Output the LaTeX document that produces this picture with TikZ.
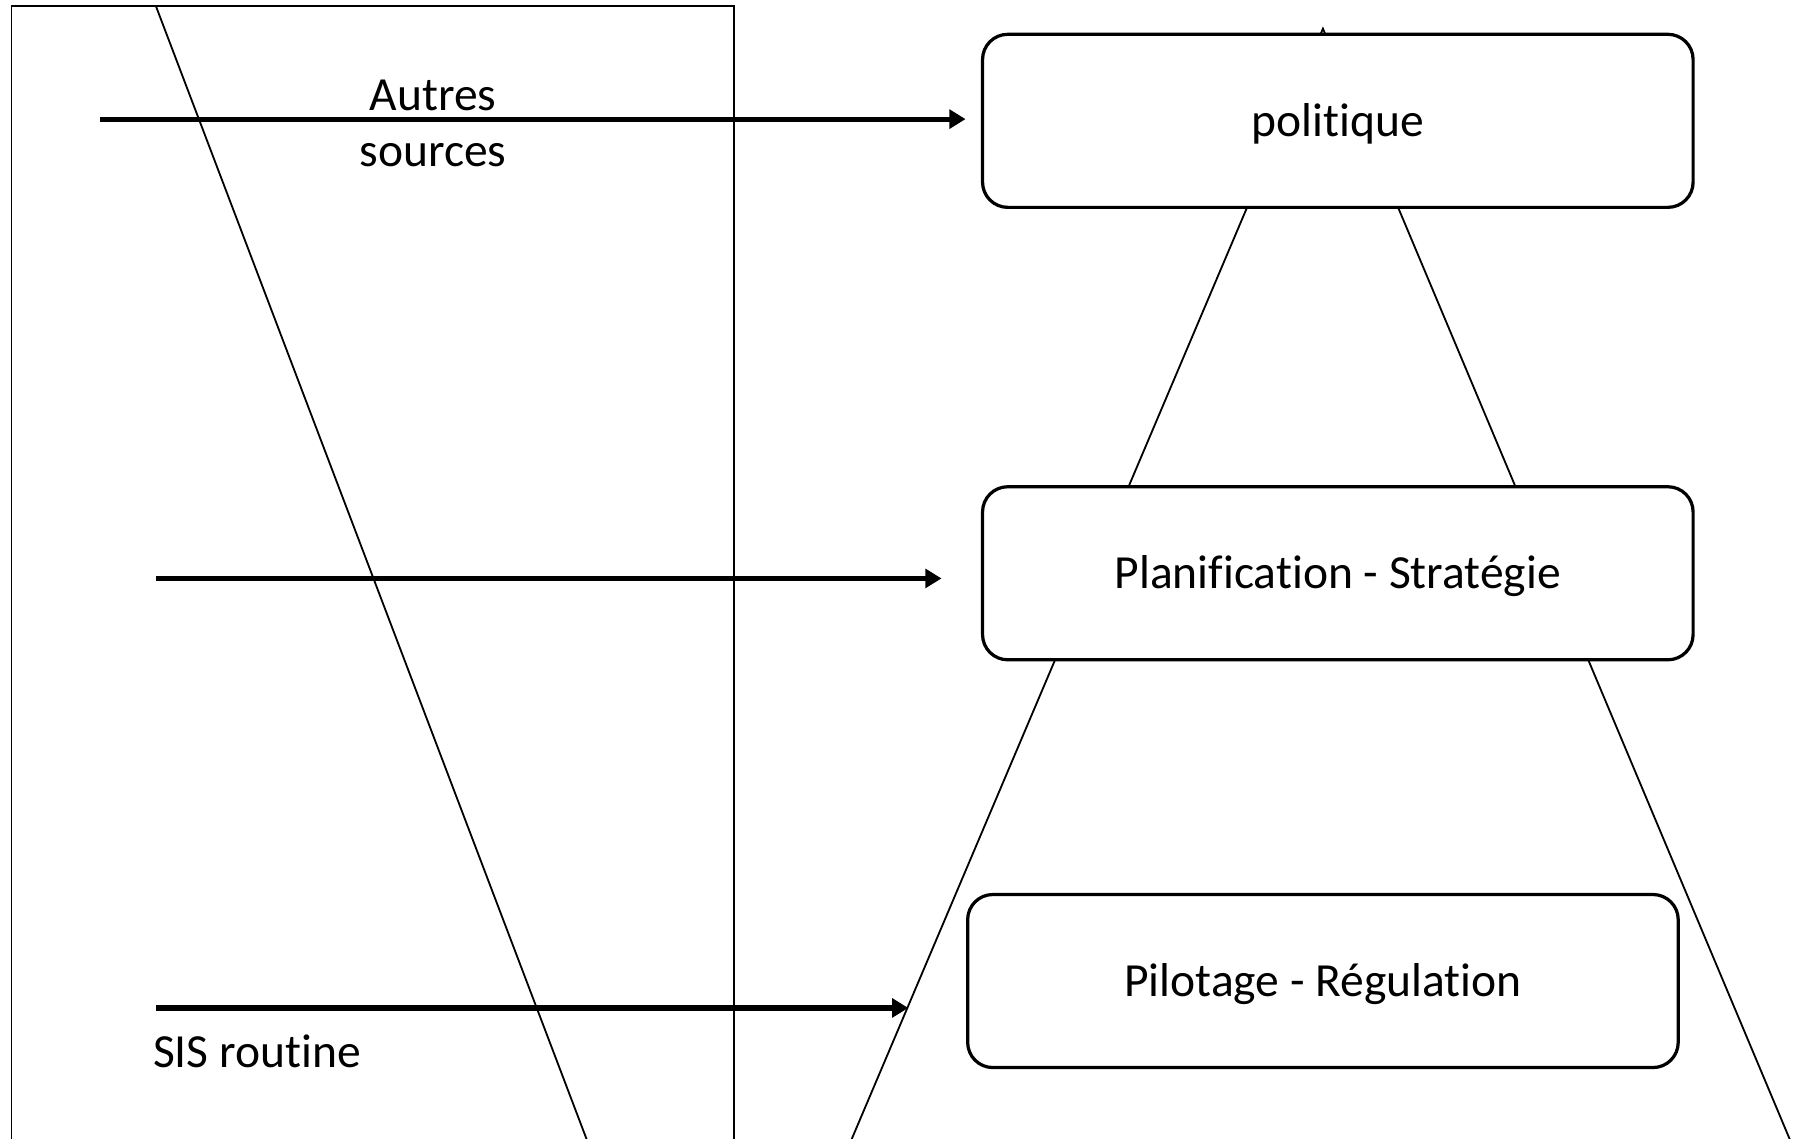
\documentclass[tikz,border=0pt]{standalone}
\usepackage{fontspec}
\setmainfont{Carlito}[Ligatures=NoCommon]
\usetikzlibrary{arrows.meta}
\begin{document}
\begin{tikzpicture}[x=0.01cm,y=-0.01cm,
  thin line/.style={line width=0.45pt},
  levelbox/.style={draw, line width=0.8pt, fill=white, rounded corners=0.22cm,
    minimum width=6.2cm, minimum height=1.51cm, inner sep=0pt,
    text height=0.35cm, text depth=0.083cm,
    font=\fontsize{11.8}{14}\selectfont},
  flow/.style={line width=1.3pt, -{Triangle[length=4pt,width=4.6pt]}},
  lbl/.style={font=\fontsize{11.8}{14}\selectfont, inner sep=0pt}]
\useasboundingbox (0,0) rectangle (1568,994);
\clip (0,0) rectangle (1568,994);

% open frame on the left and its slanted divider
\draw[thin line] (10,1010) -- (10,5) -- (641,5) -- (641,1010);
\draw[thin line] (136,5) -- (518,1010);

% pyramid behind the levels
\coordinate (apex) at (1155,25);
\coordinate (baseL) at (737,1010);
\coordinate (baseR) at (1569,1010);
\draw[thin line] (baseL) -- (apex) -- (baseR);

% decision levels
\node[levelbox] (pol) at (1168,105.5) {politique};
\node[levelbox] (plan) at (1168,500.5) {Planification - Stratégie};
\node[levelbox] (pil) at (1155,856.5) {Pilotage - Régulation};

% labels
\node[lbl, align=center] (autres) at (378,108) {Autres\\sources};
\node[lbl, anchor=west] (sis) at (133,918) {SIS routine};

% information flows
\coordinate (s1) at (87,104);
\coordinate (e1) at (843,104);
\coordinate (s2) at (136,505);
\coordinate (e2) at (822,505);
\coordinate (s3) at (136,880);
\coordinate (e3) at (793,880);
\draw[flow] (s1) -- (e1);
\draw[flow] (s2) -- (e2);
\draw[flow] (s3) -- (e3);
\end{tikzpicture}
\end{document}
